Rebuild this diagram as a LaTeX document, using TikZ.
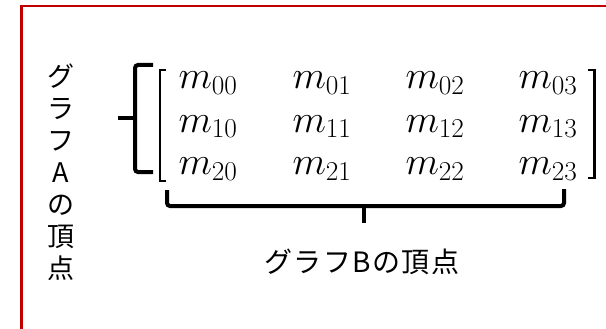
\documentclass[tikz,border=0pt]{standalone}
\usepackage{fix-cm}
\usepackage{fontspec}
\newfontfamily\jpfont{Noto Sans CJK JP}
\newfontfamily\jpwide[LetterSpace=5]{Noto Sans CJK JP}
\usepackage{tikz}
\usetikzlibrary{positioning}
\definecolor{frameRed}{HTML}{C00000}

\begin{document}
\begin{tikzpicture}[x=1pt, y=-1pt,
  ent/.style={anchor=base, inner sep=0pt, font=\fontsize{39}{42}\selectfont},
  lbl/.style={inner sep=0pt, align=center, font=\jpfont\fontsize{27}{32}\selectfont},
  brc/.style={line width=4pt, rounded corners=3pt},
  brk/.style={line width=1.5pt}]
\useasboundingbox (0,0) rectangle (606,329);
\draw[frameRed, line width=2.5pt] (21.3,6.2) rectangle (640,329.9);
% entries of the matrix
\foreach \r/\yy in {0/89,1/132,2/175}
  \foreach \c/\xx in {0/208,1/322,2/435,3/548}
    \node[ent] (m\r\c) at (\xx,\yy) {$m_{\r\c}$};
% square brackets
\draw[brk] (166,70) -- (160,70) -- (160,181) -- (166,181);
\draw[brk, line width=2.4pt] (588,70) -- (594.5,70) -- (594.5,178) -- (588,178);
% rows: graph A
\draw[brc] (153,65) -- (135,65) -- (135,172) -- (153,172);
\draw[line width=4pt] (118,118) -- (135,118);
\node[lbl] (vA) at (61,172) {グ\\ラ\\フ\\A\\の\\頂\\点};
% columns: graph B
\draw[brc] (167,190) -- (167,206) -- (564,206) -- (564,189);
\draw[line width=4pt] (364,206) -- (364,223);
\node[lbl, font=\jpwide\fontsize{28}{32}\selectfont] (vB) at (362,262) {グラフBの頂点};
\end{tikzpicture}
\end{document}
